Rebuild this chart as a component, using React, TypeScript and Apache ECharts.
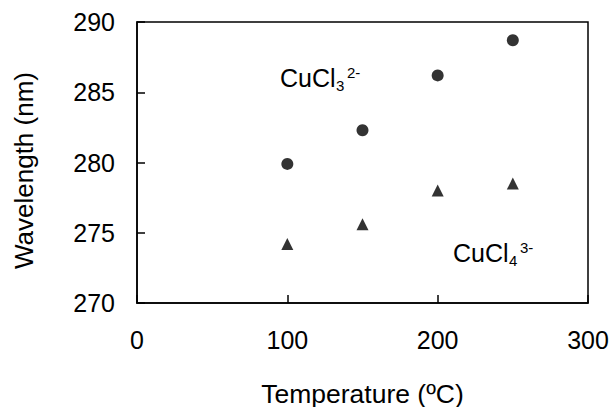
import React, { useEffect, useRef } from "react";
import * as echarts from "echarts";

// Temperature (ºC) at which each band position was measured
const temperatures = [100, 150, 200, 250];
// Band maximum wavelength (nm) for each complex
const cucl3Wavelength = [279.9, 282.3, 286.2, 288.7];
const cucl4Wavelength = [274.2, 275.6, 278.0, 278.5];

const xTicks = { min: 0, max: 300, interval: 100 };
const yTicks = { min: 270, max: 290, interval: 5 };

const FONT = "'Liberation Sans', Arial, sans-serif";
const INK = "#000";

export default function App() {
  const ref = useRef<HTMLDivElement>(null);

  useEffect(() => {
    if (!ref.current) return;
    const chart = echarts.init(ref.current, undefined, { renderer: "svg" });

    const pairs = (ys: number[]) => temperatures.map((t, i) => [t, ys[i]]);

    // Chemical formula drawn as base text plus subscript and superscript charge
    const formula = (x: number, y: number, base: string, sub: string, sup: string) => [
      {
        type: "text",
        x,
        y,
        style: { text: base, fontSize: 25, fontFamily: FONT, fill: INK, verticalAlign: "middle", align: "left" },
      },
      {
        type: "text",
        x: x + 56,
        y: y + 7,
        style: { text: sub, fontSize: 15, fontFamily: FONT, fill: INK, verticalAlign: "middle", align: "left" },
      },
      {
        type: "text",
        x: x + 67,
        y: y - 6,
        style: { text: sup, fontSize: 15, fontFamily: FONT, fill: INK, verticalAlign: "middle", align: "left" },
      },
    ];

    chart.setOption({
      animation: false,
      backgroundColor: "#fff",
      textStyle: { fontFamily: FONT },
      grid: {
        left: 137,
        top: 22,
        right: 25,
        bottom: 104,
        outerBoundsMode: "none",
        containLabel: false,
        show: true,
        borderColor: INK,
        borderWidth: 1.5,
        backgroundColor: "transparent",
      },
      xAxis: {
        type: "value",
        min: xTicks.min,
        max: xTicks.max,
        interval: xTicks.interval,
        name: "Temperature (ºC)",
        nameLocation: "middle",
        nameGap: 77,
        nameTextStyle: { fontSize: 26.5, color: INK, fontFamily: FONT },
        axisLine: { show: true, lineStyle: { color: INK, width: 1.5 } },
        axisTick: { show: true, inside: true, length: 8, lineStyle: { color: INK, width: 1.5 } },
        axisLabel: { fontSize: 25, color: INK, margin: 24, fontFamily: FONT },
        splitLine: { show: false },
      },
      yAxis: {
        type: "value",
        min: yTicks.min,
        max: yTicks.max,
        interval: yTicks.interval,
        name: "Wavelength (nm)",
        nameLocation: "middle",
        nameGap: 100,
        nameTextStyle: { fontSize: 26, color: INK, fontFamily: FONT, padding: [0, 16, 0, 0] },
        axisLine: { show: true, lineStyle: { color: INK, width: 1.5 } },
        axisTick: { show: true, inside: true, length: 8, lineStyle: { color: INK, width: 1.5 } },
        axisLabel: { fontSize: 25, color: INK, margin: 22, fontFamily: FONT },
        splitLine: { show: false },
      },
      series: [
        {
          name: "CuCl3 2-",
          type: "scatter",
          symbol: "circle",
          symbolSize: 12,
          itemStyle: { color: INK },
          data: pairs(cucl3Wavelength),
        },
        {
          name: "CuCl4 3-",
          type: "scatter",
          symbol: "triangle",
          symbolSize: 12,
          itemStyle: { color: INK },
          data: pairs(cucl4Wavelength),
        },
      ],
      graphic: [...formula(280, 78, "CuCl", "3", "2-"), ...formula(453, 253, "CuCl", "4", "3-")],
    });

    return () => chart.dispose();
  }, []);

  return (
    <div
      ref={ref}
      style={{ position: "fixed", left: 0, top: 0, width: 613, height: 407, background: "#fff" }}
    />
  );
}
